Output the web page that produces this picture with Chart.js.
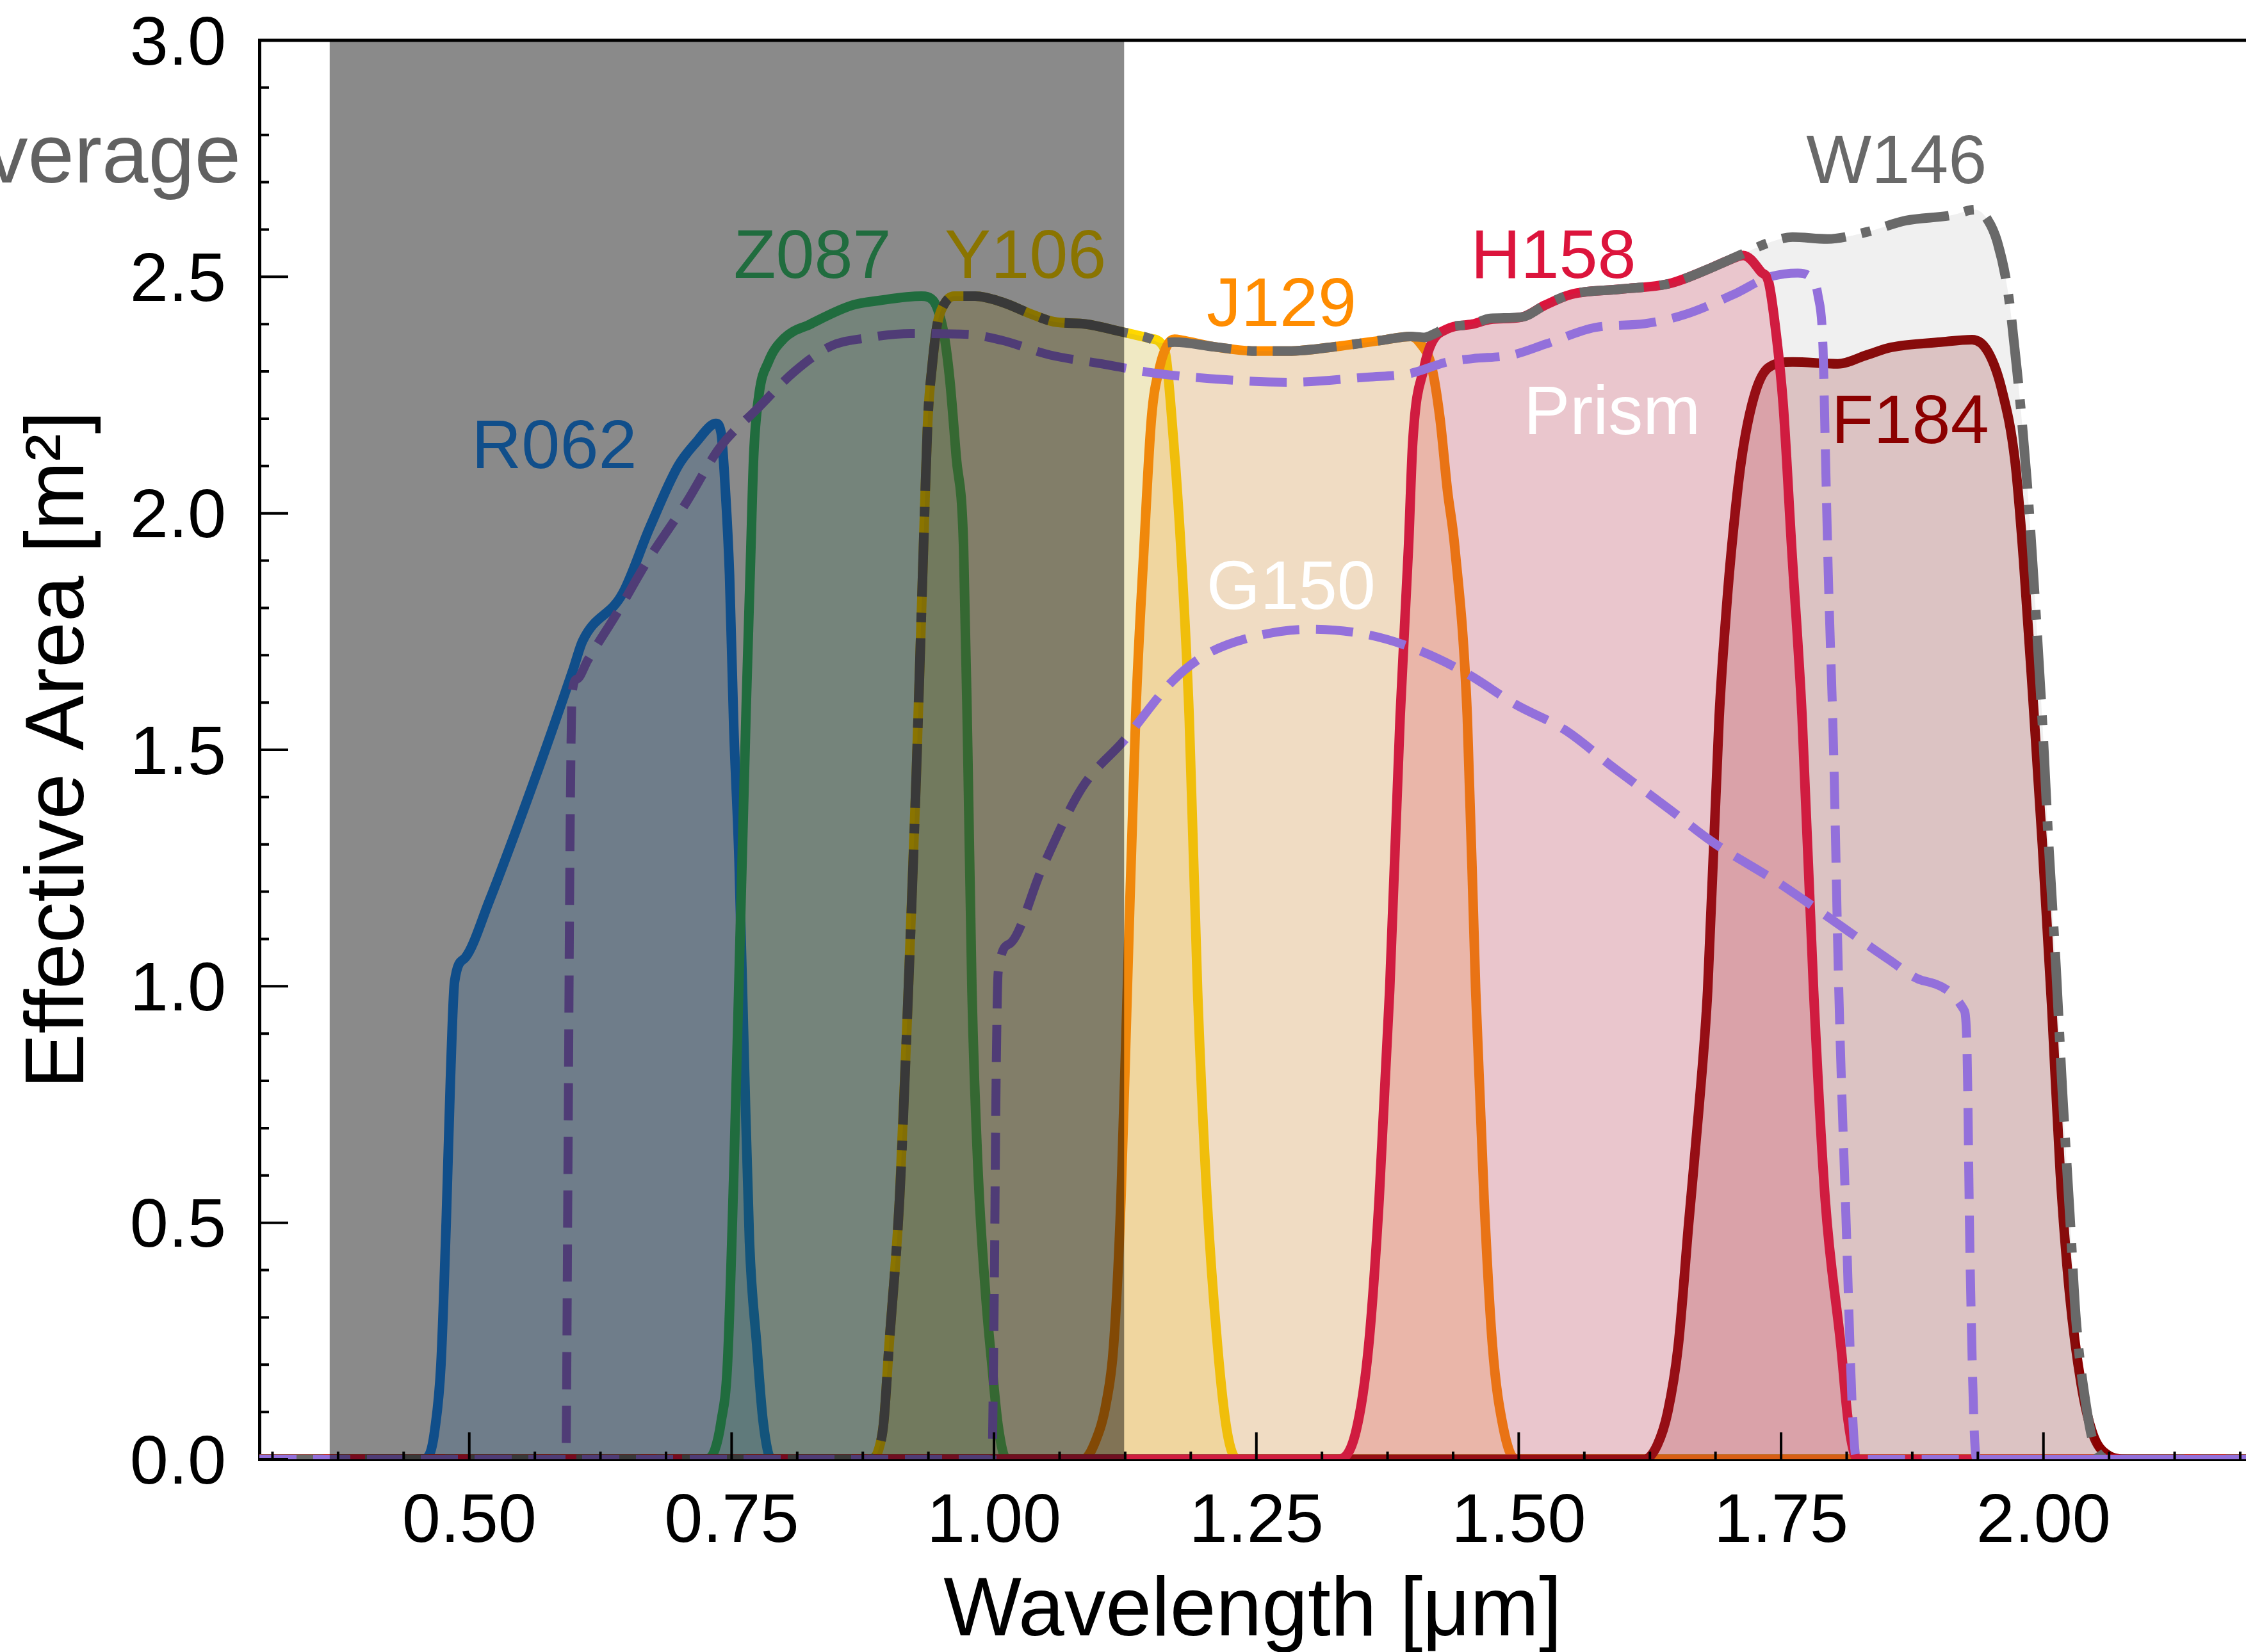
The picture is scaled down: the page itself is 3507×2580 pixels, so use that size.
<!DOCTYPE html>
<html>
<head>
<meta charset="utf-8">
<script src="https://cdn.jsdelivr.net/npm/chart.js@4"></script>
<style>
  body { margin: 0; background: #fff; }
  #wrap { width: 3507px; height: 2580px; }
</style>
</head>
<body>
<div id="wrap"><canvas id="myChart"></canvas></div>
<script>
// Curvas de area efectiva (longitud de onda en micras, area en m^2)
const r062Wl = [0.30, 0.455, 0.462, 0.467, 0.473, 0.478, 0.482, 0.486, 0.496, 0.519, 0.566, 0.599, 0.608, 0.646, 0.672, 0.699, 0.718, 0.730, 0.735, 0.740, 0.744, 0.748, 0.752, 0.757, 0.762, 0.767, 0.774, 0.780, 0.788, 2.20];
const r062Area = [0, 0, 0.01, 0.06, 0.20, 0.50, 0.80, 1.01, 1.06, 1.18, 1.46, 1.67, 1.73, 1.83, 1.97, 2.10, 2.155, 2.185, 2.19, 2.17, 2.05, 1.87, 1.55, 1.27, 0.85, 0.46, 0.24, 0.08, 0, 0];

const z087Wl = [0.30, 0.725, 0.734, 0.740, 0.746, 0.752, 0.758, 0.764, 0.768, 0.771, 0.776, 0.785, 0.800, 0.825, 0.865, 0.891, 0.931, 0.942, 0.948, 0.953, 0.958, 0.964, 0.971, 0.975, 0.979, 0.985, 0.992, 0.998, 1.004, 1.012, 2.20];
const z087Area = [0, 0, 0.02, 0.08, 0.20, 0.60, 1.10, 1.60, 1.90, 2.12, 2.25, 2.32, 2.37, 2.40, 2.44, 2.45, 2.459, 2.45, 2.42, 2.37, 2.28, 2.12, 1.93, 1.50, 0.99, 0.60, 0.35, 0.20, 0.07, 0, 0];

const y106Wl = [0.30, 0.882, 0.890, 0.895, 0.900, 0.910, 0.918, 0.926, 0.932, 0.937, 0.941, 0.946, 0.952, 0.962, 0.982, 1.007, 1.037, 1.057, 1.088, 1.119, 1.148, 1.159, 1.164, 1.168, 1.173, 1.178, 1.186, 1.194, 1.203, 1.213, 1.222, 1.232, 2.20];
const y106Area = [0, 0, 0.02, 0.08, 0.24, 0.55, 0.97, 1.45, 1.87, 2.20, 2.31, 2.40, 2.44, 2.459, 2.459, 2.447, 2.42, 2.405, 2.40, 2.385, 2.37, 2.36, 2.33, 2.24, 2.10, 1.93, 1.57, 0.99, 0.55, 0.24, 0.06, 0, 0];

const j129Wl = [0.30, 1.085, 1.097, 1.107, 1.114, 1.121, 1.127, 1.135, 1.143, 1.150, 1.158, 1.165, 1.172, 1.179, 1.21, 1.25, 1.28, 1.331, 1.37, 1.397, 1.406, 1.417, 1.425, 1.432, 1.439, 1.451, 1.459, 1.467, 1.475, 1.485, 1.497, 2.20];
const j129Area = [0, 0, 0.04, 0.12, 0.24, 0.55, 0.99, 1.57, 1.93, 2.20, 2.31, 2.355, 2.368, 2.366, 2.352, 2.343, 2.343, 2.354, 2.366, 2.374, 2.36, 2.31, 2.20, 2.05, 1.93, 1.57, 0.99, 0.55, 0.24, 0.07, 0, 0];

const h158Wl = [0.30, 1.328, 1.345, 1.357, 1.367, 1.377, 1.387, 1.395, 1.399, 1.410, 1.417, 1.432, 1.456, 1.473, 1.503, 1.525, 1.550, 1.597, 1.644, 1.677, 1.700, 1.714, 1.721, 1.731, 1.738, 1.745, 1.752, 1.760, 1.770, 1.781, 1.792, 1.807, 1.814, 1.823, 2.20];
const h158Area = [0, 0, 0.06, 0.24, 0.55, 0.99, 1.57, 1.93, 2.15, 2.31, 2.36, 2.39, 2.40, 2.41, 2.415, 2.44, 2.463, 2.474, 2.486, 2.513, 2.535, 2.545, 2.537, 2.51, 2.49, 2.385, 2.23, 1.93, 1.57, 0.99, 0.55, 0.24, 0.08, 0, 0];

const f184Wl = [0.30, 1.620, 1.632, 1.642, 1.652, 1.662, 1.672, 1.680, 1.691, 1.698, 1.703, 1.712, 1.724, 1.738, 1.761, 1.804, 1.832, 1.855, 1.902, 1.932, 1.947, 1.960, 1.973, 1.981, 1.990, 1.999, 2.008, 2.016, 2.025, 2.036, 2.047, 2.060, 2.080, 2.20];
const f184Area = [0, 0, 0.03, 0.10, 0.24, 0.50, 0.75, 0.99, 1.57, 1.80, 1.93, 2.11, 2.245, 2.308, 2.32, 2.316, 2.335, 2.351, 2.362, 2.367, 2.342, 2.264, 2.109, 1.902, 1.608, 1.298, 0.953, 0.606, 0.348, 0.158, 0.054, 0.011, 0, 0];

const w146Wl = [0.30, 0.882, 0.890, 0.895, 0.900, 0.910, 0.918, 0.926, 0.932, 0.937, 0.941, 0.946, 0.952, 0.962, 0.982, 1.007, 1.037, 1.057, 1.088, 1.119, 1.148, 1.159, 1.172, 1.21, 1.25, 1.28, 1.331, 1.37, 1.397, 1.410, 1.420, 1.432, 1.456, 1.473, 1.503, 1.525, 1.550, 1.597, 1.644, 1.677, 1.714, 1.738, 1.761, 1.794, 1.832, 1.869, 1.912, 1.935, 1.947, 1.956, 1.966, 1.975, 1.984, 1.992, 1.999, 2.005, 2.012, 2.018, 2.025, 2.031, 2.040, 2.050, 2.065, 2.20];
const w146Area = [0, 0, 0.02, 0.08, 0.24, 0.55, 0.97, 1.45, 1.87, 2.20, 2.31, 2.40, 2.44, 2.459, 2.459, 2.447, 2.42, 2.405, 2.40, 2.385, 2.37, 2.36, 2.362, 2.352, 2.343, 2.343, 2.354, 2.366, 2.374, 2.372, 2.38, 2.393, 2.40, 2.412, 2.415, 2.44, 2.463, 2.474, 2.486, 2.513, 2.549, 2.572, 2.584, 2.58, 2.595, 2.619, 2.63, 2.642, 2.62, 2.574, 2.471, 2.298, 2.075, 1.815, 1.557, 1.298, 1.038, 0.78, 0.521, 0.296, 0.123, 0.02, 0, 0];

const prismWl = [0.30, 0.592, 0.594, 0.596, 0.598, 0.603, 0.613, 0.641, 0.670, 0.706, 0.739, 0.774, 0.810, 0.845, 0.876, 0.921, 0.977, 1.007, 1.053, 1.103, 1.154, 1.205, 1.280, 1.356, 1.397, 1.432, 1.456, 1.494, 1.526, 1.573, 1.620, 1.658, 1.705, 1.738, 1.766, 1.780, 1.785, 1.790, 1.792, 1.795, 1.800, 1.805, 1.812, 1.818, 1.822, 2.20];
const prismArea = [0, 0, 0.6, 1.3, 1.62, 1.65, 1.69, 1.79, 1.90, 2.02, 2.14, 2.22, 2.30, 2.354, 2.37, 2.38, 2.378, 2.366, 2.335, 2.316, 2.296, 2.285, 2.277, 2.288, 2.296, 2.32, 2.327, 2.335, 2.358, 2.393, 2.401, 2.42, 2.463, 2.499, 2.508, 2.494, 2.463, 2.347, 2.152, 1.87, 1.50, 0.99, 0.50, 0.10, 0, 0];

const g150Wl = [0.30, 0.998, 1.000, 1.002, 1.004, 1.015, 1.046, 1.084, 1.124, 1.170, 1.201, 1.240, 1.302, 1.357, 1.404, 1.450, 1.497, 1.544, 1.590, 1.645, 1.684, 1.746, 1.801, 1.853, 1.885, 1.924, 1.927, 1.930, 1.935, 1.937, 2.20];
const g150Area = [0, 0, 0.3, 0.8, 1.03, 1.09, 1.25, 1.42, 1.52, 1.645, 1.70, 1.735, 1.755, 1.743, 1.711, 1.662, 1.596, 1.542, 1.463, 1.372, 1.306, 1.221, 1.137, 1.056, 1.012, 0.951, 0.88, 0.43, 0.02, 0, 0];

// Etiquetas de cada filtro
const bandLabels = ['R062', 'Z087', 'Y106', 'J129', 'H158', 'W146', 'Prism', 'F184', 'G150'];
const labelX = [0.581, 0.827, 1.030, 1.274, 1.533, 1.860, 1.589, 1.873, 1.283];
const labelY = [2.136, 2.538, 2.538, 2.436, 2.538, 2.738, 2.208, 2.189, 1.838];
const labelColors = ['rgb(30,144,255)', 'rgb(60,200,115)', 'rgb(255,215,0)', 'rgb(255,140,0)', 'rgb(220,20,60)', 'rgb(105,105,105)', '#ffffff', 'rgb(139,0,0)', '#ffffff'];

// Zona sombreada (cobertura)
const coverageRange = [0.367, 1.124];

const xTicks = [0.50, 0.75, 1.00, 1.25, 1.50, 1.75, 2.00];
const yTicks = [0.0, 0.5, 1.0, 1.5, 2.0, 2.5, 3.0];

const FONT = '"Liberation Sans", Arial, Helvetica, sans-serif';

function puntos(wl, area) {
    return wl.map((w, i) => ({ x: w, y: area[i] }));
}

function banda(label, wl, area, color, fillColor, order, extra) {
    return Object.assign({
        label: label,
        data: puntos(wl, area),
        borderColor: color,
        backgroundColor: fillColor,
        fill: fillColor ? 'origin' : false,
        borderWidth: 15,
        pointRadius: 0,
        cubicInterpolationMode: 'monotone',
        borderCapStyle: 'butt',
        borderJoinStyle: 'round',
        order: order
    }, extra || {});
}

// Sombra, etiquetas y marcas hacia dentro
const extrasPlugin = {
    id: 'extras',
    afterDatasetsDraw(chart) {
        const { ctx, chartArea, scales } = chart;
        const x = scales.x, y = scales.y;
        ctx.save();
        ctx.beginPath();
        ctx.rect(chartArea.left, chartArea.top, chartArea.right - chartArea.left, chartArea.bottom - chartArea.top);
        ctx.clip();
        ctx.font = '108px ' + FONT;
        ctx.textAlign = 'center';
        ctx.textBaseline = 'middle';
        bandLabels.forEach((txt, i) => {
            ctx.fillStyle = labelColors[i];
            ctx.fillText(txt, x.getPixelForValue(labelX[i]), y.getPixelForValue(labelY[i]));
        });
        const x0 = x.getPixelForValue(coverageRange[0]);
        const x1 = x.getPixelForValue(coverageRange[1]);
        ctx.fillStyle = 'rgba(0,0,0,0.46)';
        ctx.fillRect(x0, chartArea.top, x1 - x0, chartArea.bottom - chartArea.top);
        ctx.restore();
    },
    afterDraw(chart) {
        const { ctx, chartArea, scales } = chart;
        const x = scales.x, y = scales.y;
        ctx.save();
        ctx.strokeStyle = '#000';
        ctx.lineWidth = 4;
        ctx.beginPath();
        // marcas del eje y
        for (let i = 0; i <= 30; i++) {
            const v = i / 10;
            const py = y.getPixelForValue(v);
            const len = (i % 5 === 0) ? 45 : 15;
            ctx.moveTo(chartArea.left, py);
            ctx.lineTo(chartArea.left + len, py);
        }
        // marcas del eje x
        for (let i = 5; i <= 35; i++) {
            const v = i * 0.0625;
            if (v < x.min || v > x.max) continue;
            const px = x.getPixelForValue(v);
            const len = (i % 4 === 0) ? 42 : 12;
            ctx.moveTo(px, chartArea.bottom);
            ctx.lineTo(px, chartArea.bottom - len);
        }
        ctx.stroke();
        // borde superior
        ctx.lineWidth = 5;
        ctx.beginPath();
        ctx.moveTo(chartArea.left - 2, chartArea.top);
        ctx.lineTo(chartArea.right, chartArea.top);
        ctx.stroke();
        // texto cortado a la izquierda
        ctx.fillStyle = '#616161';
        ctx.font = '130px ' + FONT;
        ctx.textAlign = 'right';
        ctx.textBaseline = 'alphabetic';
        ctx.fillText('Coverage', chartArea.left - 29, y.getPixelForValue(2.70));
        ctx.restore();
    }
};

function crearGrafico() {
    const ctx = document.getElementById('myChart').getContext('2d');
    const datasets = [
        banda('R062', r062Wl, r062Area, 'rgb(30,144,255)', 'rgba(30,144,255,0.22)', 8),
        banda('Z087', z087Wl, z087Area, 'rgb(60,200,115)', 'rgba(60,200,115,0.2)', 7),
        banda('Y106', y106Wl, y106Area, 'rgb(255,215,0)', 'rgba(255,215,0,0.2)', 6),
        banda('J129', j129Wl, j129Area, 'rgb(255,140,0)', 'rgba(255,140,0,0.2)', 5),
        banda('F184', f184Wl, f184Area, 'rgb(139,0,0)', 'rgba(139,0,0,0.2)', 4),
        banda('H158', h158Wl, h158Area, 'rgb(220,20,60)', 'rgba(220,20,60,0.2)', 3),
        banda('W146', w146Wl, w146Area, 'rgb(105,105,105)', 'rgba(105,105,105,0.1)', 2, { borderDash: [100, 25, 15, 25] }),
        banda('G150', g150Wl, g150Area, 'rgb(147,112,219)', null, 1, { borderDash: [58, 26], borderWidth: 14 }),
        banda('Prism', prismWl, prismArea, 'rgb(147,112,219)', null, 0, { borderDash: [58, 26], borderWidth: 14 })
    ];

    new Chart(ctx, {
        type: 'line',
        data: { datasets: datasets },
        options: {
            responsive: true,
            maintainAspectRatio: false,
            devicePixelRatio: 1,
            animation: false,
            events: [],
            layout: { padding: { top: 63, left: 0, right: 0, bottom: 0 } },
            scales: {
                x: {
                    type: 'linear',
                    min: 0.3,
                    max: 2.193,
                    afterBuildTicks: (scale) => { scale.ticks = xTicks.map(v => ({ value: v })); },
                    ticks: {
                        callback: (v) => Number(v).toFixed(2),
                        font: { family: FONT, size: 108, lineHeight: 1.0 },
                        color: '#000',
                        padding: 45,
                        maxRotation: 0,
                        autoSkip: false
                    },
                    grid: { display: false, drawTicks: false },
                    border: { display: true, color: '#000', width: 5 },
                    title: {
                        display: true,
                        text: 'Wavelength [μm]',
                        color: '#000',
                        font: { family: FONT, size: 129, lineHeight: 0.95 },
                        padding: { top: 0, bottom: 0 }
                    },
                    afterFit: (scale) => {
                        scale.height = 301;
                        scale.paddingLeft = 0;
                        scale.paddingRight = 0;
                    }
                },
                y: {
                    min: 0,
                    max: 3,
                    afterBuildTicks: (scale) => { scale.ticks = yTicks.map(v => ({ value: v })); },
                    ticks: {
                        callback: (v) => Number(v).toFixed(1),
                        font: { family: FONT, size: 108, lineHeight: 1.0 },
                        color: '#000',
                        padding: 52,
                        labelOffset: 8
                    },
                    grid: { display: false, drawTicks: false },
                    border: { display: true, color: '#000', width: 5 },
                    title: {
                        display: true,
                        text: 'Effective Area [m²]',
                        color: '#000',
                        font: { family: FONT, size: 129, lineHeight: 1.0 },
                        padding: { top: 30, bottom: 0 }
                    },
                    afterFit: (scale) => {
                        scale.width = 405;
                        scale.paddingTop = 0;
                        scale.paddingBottom = 0;
                    }
                }
            },
            plugins: {
                legend: { display: false },
                tooltip: { enabled: false }
            }
        },
        plugins: [extrasPlugin]
    });
}

crearGrafico();
</script>
</body>
</html>
